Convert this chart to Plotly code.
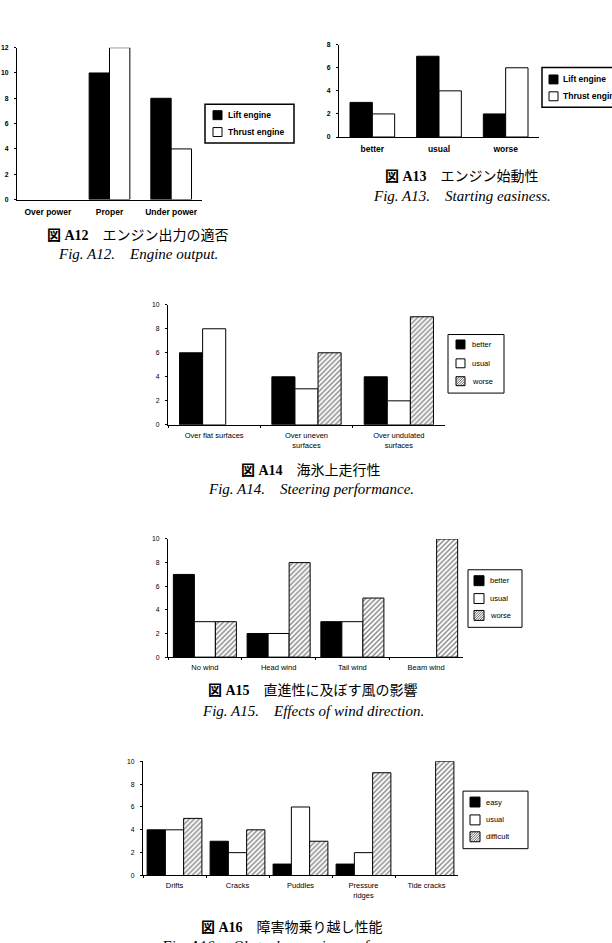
import plotly.graph_objects as go

W, H = 612, 943

# ---------------- data ----------------
a12_cats = ["Over power", "Proper", "Under power"]
a12_lift = [0, 10, 8]
a12_thrust = [0, 12, 4]

a13_cats = ["better", "usual", "worse"]
a13_lift = [3, 7, 2]
a13_thrust = [2, 4, 6]

a14_cats = ["Over flat surfaces", "Over uneven<br>surfaces", "Over undulated<br>surfaces"]
a14_better = [6, 4, 4]
a14_usual = [8, 3, 2]
a14_worse = [0, 6, 9]

a15_cats = ["No wind", "Head wind", "Tail wind", "Beam wind"]
a15_better = [7, 2, 3, 0]
a15_usual = [3, 2, 3, 0]
a15_worse = [3, 8, 5, 10]

a16_cats = ["Drifts", "Cracks", "Puddles", "Pressure<br>ridges", "Tide cracks"]
a16_easy = [4, 3, 1, 1, 0]
a16_usual = [4, 2, 6, 2, 0]
a16_difficult = [5, 4, 3, 9, 10]

captions = [
    ("<b>図 A12</b>　エンジン出力の適否", "<i>Fig. A12.　Engine output.</i>"),
    ("<b>図 A13</b>　エンジン始動性", "<i>Fig. A13.　Starting easiness.</i>"),
    ("<b>図 A14</b>　海氷上走行性", "<i>Fig. A14.　Steering performance.</i>"),
    ("<b>図 A15</b>　直進性に及ぼす風の影響", "<i>Fig. A15.　Effects of wind direction.</i>"),
    ("<b>図 A16</b>　障害物乗り越し性能", "<i>Fig. A16.　Obstacle crossing performance.</i>"),
]

# ---------------- styles ----------------
SANS = "Liberation Sans, Arial, sans-serif"
SERIF = "Liberation Serif, Noto Sans CJK JP, serif"
KIND_BLACK, KIND_WHITE, KIND_HATCH = "black", "white", "hatch"


def marker_for(kind, vals):
    lw = [0 if v == 0 else 1 for v in vals]
    line = dict(color="black", width=lw)
    if kind == KIND_BLACK:
        return dict(color="black", line=line)
    if kind == KIND_WHITE:
        return dict(color="white", line=line)
    return dict(color="white", line=line,
                pattern=dict(shape="/", fgcolor="black", bgcolor="white", size=3.5, solidity=0.38))


def px_x(x0, x1):
    return [x0 / W, x1 / W]


def px_y(ytop, ybot):
    return [1 - ybot / H, 1 - ytop / H]


def PX(x):
    return x / W


def PY(y):
    return 1 - y / H


charts = [
    dict(cats=a12_cats, series=[("Lift engine", a12_lift, KIND_BLACK), ("Thrust engine", a12_thrust, KIND_WHITE)],
         xd=px_x(17, 202), yd=px_y(44, 197), ymax=12, bw=0.33, bold=True,
         box=(205, 101, 294, 140), rows=[112, 129], sw=(213, 9), tx=226, bw_line=1.5,
         cap=(138, 233, 252)),
    dict(cats=a13_cats, series=[("Lift engine", a13_lift, KIND_BLACK), ("Thrust engine", a13_thrust, KIND_WHITE)],
         xd=px_x(339, 539), yd=px_y(41, 134), ymax=8, bw=0.335, bold=True,
         box=(542, 64, 640, 104), rows=[76, 93], sw=(549, 9), tx=561, bw_line=1.5,
         cap=(462, 174, 193)),
    dict(cats=a14_cats, series=[("better", a14_better, KIND_BLACK), ("usual", a14_usual, KIND_WHITE), ("worse", a14_worse, KIND_HATCH)],
         xd=px_x(168, 445), yd=px_y(303, 424), ymax=10, bw=0.25, bold=False,
         box=(448, 333, 504, 392), rows=[343, 362, 380], sw=(456, 9), tx=470, bw_line=1,
         cap=(311, 470, 489)),
    dict(cats=a15_cats, series=[("better", a15_better, KIND_BLACK), ("usual", a15_usual, KIND_WHITE), ("worse", a15_worse, KIND_HATCH)],
         xd=px_x(168, 463), yd=px_y(539, 658), ymax=10, bw=0.285, bold=False,
         box=(468, 570, 522, 628), rows=[581, 599, 616], sw=(474, 10), tx=488, bw_line=1,
         cap=(313, 692, 712)),
    dict(cats=a16_cats, series=[("easy", a16_easy, KIND_BLACK), ("usual", a16_usual, KIND_WHITE), ("difficult", a16_difficult, KIND_HATCH)],
         xd=px_x(143, 458), yd=px_y(763, 878), ymax=10, bw=0.29, bold=False,
         box=(463, 793, 528, 851), rows=[804, 822, 839], sw=(470, 10), tx=484, bw_line=1,
         cap=(292, 930, 949)),
]

fig = go.Figure()
layout = dict(width=W, height=H, margin=dict(l=0, r=0, t=0, b=0),
              paper_bgcolor="white", plot_bgcolor="white", barmode="overlay",
              showlegend=False, annotations=[], shapes=[])


def hatch_path(x0, y0, s, step=2.4):
    # diagonal "/" lines clipped to a square of side s with top-left (x0, y0), pixel coords
    y1 = y0 + s
    parts = []
    c = -s + step / 2
    while c < s:
        ua, ub = max(0.0, c), min(s, s + c)
        xa, ya = x0 + ua, y1 - (ua - c)
        xb, yb = x0 + ub, y1 - (ub - c)
        parts.append(f"M{PX(xa):.5f},{PY(ya):.5f}L{PX(xb):.5f},{PY(yb):.5f}")
        c += step
    return "".join(parts)


for i, c in enumerate(charts, start=1):
    sfx = "" if i == 1 else str(i)
    n = len(c["series"])
    bw = c["bw"]
    for k, (name, vals, kind) in enumerate(c["series"]):
        off = -n * bw / 2 + k * bw
        fig.add_trace(go.Bar(x=c["cats"], y=vals, name=name, marker=marker_for(kind, vals),
                             width=bw, offset=off, xaxis="x" + sfx, yaxis="y" + sfx,
                             hoverinfo="skip"))
    weight = "bold" if c["bold"] else "normal"
    xfs = 8.5 if c["bold"] else 7.5
    layout["xaxis" + sfx] = dict(domain=c["xd"], anchor="y" + sfx, type="category",
                                 range=[-0.5, len(c["cats"]) - 0.5],
                                 showline=True, linecolor="black", linewidth=1,
                                 showgrid=False, zeroline=False,
                                 ticks="" if c["bold"] else "outside", ticklen=2,
                                 tickson="boundaries", tickcolor="black",
                                 ticklabelstandoff=4 if c["bold"] else 3,
                                 tickfont=dict(family=SANS, size=xfs, color="black", weight=weight),
                                 fixedrange=True)
    layout["yaxis" + sfx] = dict(domain=c["yd"], anchor="x" + sfx, range=[0, c["ymax"]],
                                 dtick=2, showline=True, linecolor="black", linewidth=1,
                                 showgrid=False, zeroline=False,
                                 ticks="outside", ticklen=2, tickcolor="black",
                                 ticklabelstandoff=4,
                                 tickfont=dict(family=SANS, size=6.8, color="black", weight=weight),
                                 fixedrange=True)

    # legend drawn as box + swatches + real text
    bx0, by0, bx1, by1 = c["box"]
    layout["shapes"].append(dict(type="rect", xref="paper", yref="paper",
                                 x0=PX(bx0), x1=PX(bx1), y0=PY(by1), y1=PY(by0),
                                 line=dict(color="black", width=c["bw_line"]), fillcolor="white"))
    sx, ss = c["sw"]
    lfs = 8.5 if c["bold"] else 7.5
    for (name, vals, kind), ry in zip(c["series"], c["rows"]):
        sy0 = ry - ss / 2
        fill = "black" if kind == KIND_BLACK else "white"
        layout["shapes"].append(dict(type="rect", xref="paper", yref="paper",
                                     x0=PX(sx), x1=PX(sx + ss), y0=PY(sy0 + ss), y1=PY(sy0),
                                     line=dict(color="black", width=1), fillcolor=fill))
        if kind == KIND_HATCH:
            layout["shapes"].append(dict(type="path", xref="paper", yref="paper",
                                         path=hatch_path(sx, sy0, ss),
                                         line=dict(color="black", width=0.6)))
        layout["annotations"].append(dict(text=name, x=PX(c["tx"]), y=PY(ry), xref="paper", yref="paper",
                                          xanchor="left", yanchor="middle", showarrow=False,
                                          font=dict(family=SANS, size=lfs, color="black", weight=weight)))

    cx, cy1, cy2 = c["cap"]
    jp, en = captions[i - 1]
    layout["annotations"].append(dict(text=jp, x=PX(cx), y=PY(cy1), xref="paper", yref="paper",
                                      xanchor="center", yanchor="middle", showarrow=False,
                                      font=dict(family=SERIF, size=14, color="black")))
    layout["annotations"].append(dict(text=en, x=PX(cx), y=PY(cy2), xref="paper", yref="paper",
                                      xanchor="center", yanchor="middle", showarrow=False,
                                      font=dict(family=SERIF, size=15, color="black")))

fig.update_layout(**layout)
fig.write_html("out.html")
